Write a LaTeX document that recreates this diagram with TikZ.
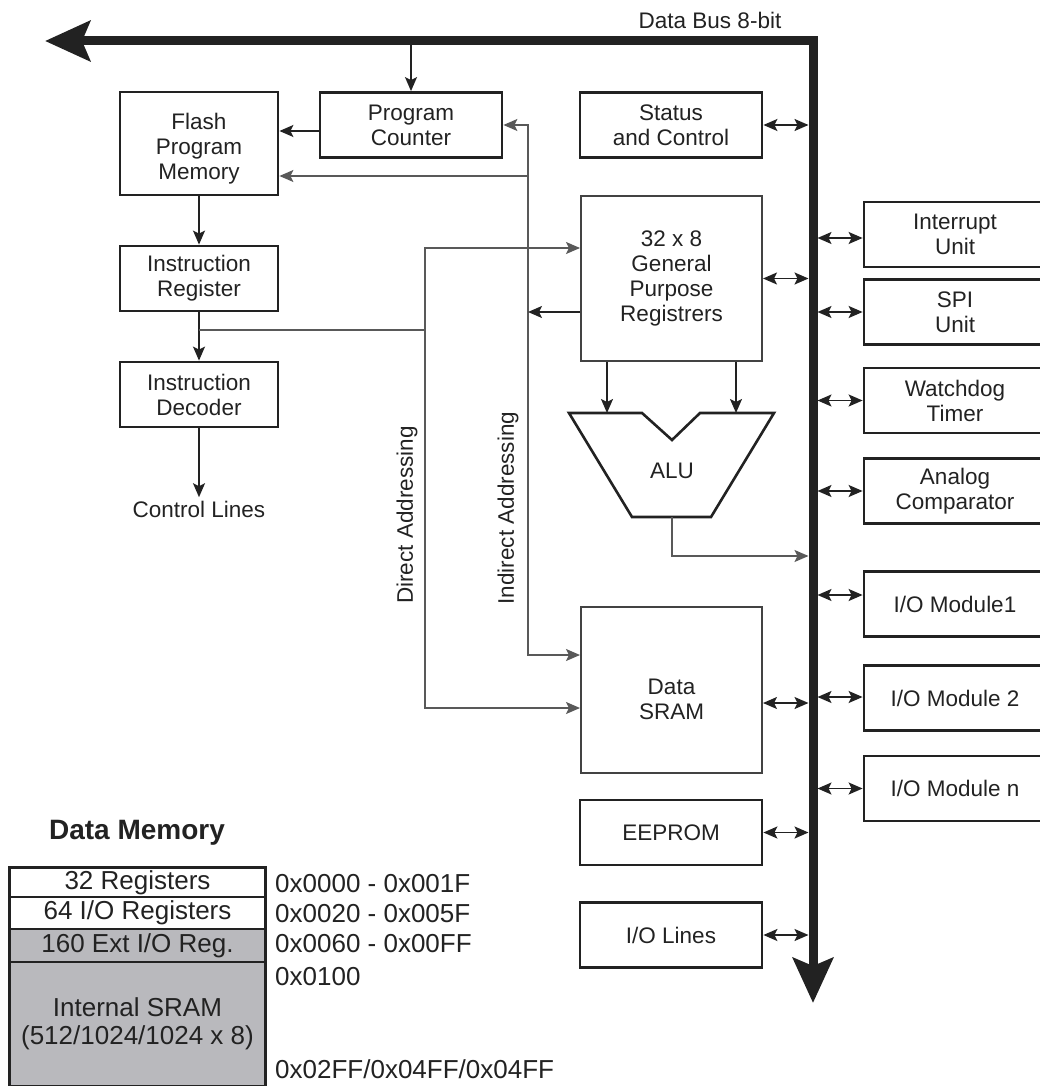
\documentclass[tikz,border=0pt]{standalone}
\usepackage{fontspec}
\setmainfont{Liberation Sans}
\usetikzlibrary{arrows.meta}
\definecolor{ink}{HTML}{222222}
\definecolor{memgray}{HTML}{B9B9BD}

\begin{document}
\begin{tikzpicture}[x=1pt,y=-1pt,
  >={Stealth[length=14pt,width=12pt,inset=3pt]},
  every node/.style={font=\fontsize{22.5}{25}\selectfont,text=ink},
  box/.style={draw=ink,line width=2.8pt,align=center,inner sep=0pt},
  leftbox/.style={box,minimum width=158pt,minimum height=65pt},
  midbox/.style={box,minimum width=182pt,minimum height=65pt},
  sidebox/.style={box,minimum width=182pt,minimum height=65pt},
  regbox/.style={box,draw=ink!85,line width=2pt,minimum width=181pt,minimum height=165pt},
  conn/.style={draw=ink,line width=1.8pt,->},
  dual/.style={draw=ink,line width=1.8pt,<->},
  addr/.style={draw=ink!75,line width=1.4pt},
  bus/.style={draw=ink,line width=9pt,
    {Stealth[length=45pt,width=40pt,inset=8pt]}-{Stealth[length=45pt,width=40pt,inset=8pt]}},
  memrow/.style={draw=ink,line width=1.5pt,minimum width=255pt,inner sep=0pt,align=center,
    font=\fontsize{26}{28}\selectfont},
  addrtext/.style={anchor=base west,inner sep=0pt,font=\fontsize{26}{28}\selectfont}]
\useasboundingbox (0,0) rectangle (1040,1086);

\node[leftbox,minimum height=103pt,label={[align=center,yshift=-5pt]center:Flash\\Program\\Memory}] (flash) at (199,143.5) {};
\node[midbox] (pc) at (411,125) {Program\\Counter};
\node[leftbox] (ir) at (199,278.5) {Instruction\\Register};
\node[leftbox] (idec) at (199,394.5) {Instruction\\Decoder};
\node (ctrl) at (199,509) {Control Lines};

\node[midbox] (status) at (671,125) {Status\\and Control};
\node[regbox] (gpr) at (671.5,278.5) {32 x 8\\General\\Purpose\\Registrers};
\node[regbox,minimum height=166pt,label={[align=center,yshift=-9pt]center:Data\\SRAM}] (sram) at (671.5,690) {};
\node[midbox] (eeprom) at (671,832.5) {EEPROM};
\node[midbox] (iolines) at (671,935) {I/O Lines};

\node[sidebox] (intr) at (955,234.5) {Interrupt\\Unit};
\node[sidebox] (spi) at (955,312) {SPI\\Unit};
\node[sidebox] (wdog) at (955,400.5) {Watchdog\\Timer};
\node[sidebox] (acomp) at (955,491) {Analog\\Comparator};
\node[sidebox] (iom1) at (955,604) {I/O Module1};
\node[sidebox] (iom2) at (955,698) {I/O Module 2};
\node[sidebox] (iomn) at (955,788.5) {I/O Module n};

\coordinate (busl) at (45,41);
\coordinate (busc) at (813,41);
\coordinate (busb) at (813,1003);
\coordinate (bl) at (808.5,41);
\coordinate (br) at (817.5,41);
\node (buslabel) at (710,20) {Data Bus 8-bit};

\draw[conn] (pc.north |- busc) -- (pc.north);
\draw[conn] ([yshift=-6pt]pc.west) -- ([yshift=-6pt]pc.west -| flash.east);
\draw[conn] (flash.south) -- (ir.north);
\draw[conn] (ir.south) -- (idec.north);
\draw[conn] (idec.south) -- (ctrl.north);

\coordinate (dcol) at (425,330);
\coordinate (icol) at (528,0);
\coordinate (flashin) at ([yshift=-32.5pt]flash.east);
\draw[addr] (ir.south |- dcol) -- (dcol);
\draw[addr,->] (dcol) |- ([yshift=30.5pt]gpr.west);
\draw[addr,->] (dcol) |- ([yshift=-18pt]sram.west);
\draw[addr,<->] ([yshift=35pt]sram.west) -| (icol |- pc.east) -- (pc.east);
\draw[addr,->] (icol |- flashin) -- (flashin);
\draw[conn] ([yshift=-33.5pt]gpr.west) -- ([yshift=-33.5pt]gpr.west -| icol);
\node[rotate=90] (dlabel) at (407,515) {Direct Addressing};
\node[rotate=90] (ilabel) at (508,508) {Indirect Addressing};

\coordinate (alutop) at (672,413);
\coordinate (alubot) at (672,517);
\coordinate (aluout) at (672,556);
\draw[conn] ([xshift=-64.5pt]gpr.south) -- ([xshift=-64.5pt]gpr.south |- alutop);
\draw[conn] ([xshift=64.5pt]gpr.south) -- ([xshift=64.5pt]gpr.south |- alutop);
\draw[draw=ink,line width=2.6pt] (569,413) -- (642,413) -- (672,440) -- (700,413) --
      (774,413) -- (711,517) -- (632,517) -- cycle;
\node (alu) at (672,471) {ALU};
\draw[addr,->] (alubot) -- (aluout) -- (aluout -| bl);

\foreach \n/\s in {status/0,gpr/0,sram/-13,eeprom/0,iolines/0}
  \draw[dual] ([yshift=\s pt]\n.east) -- ([yshift=\s pt]\n.east -| bl);
\foreach \n/\s in {intr/-3.5,spi/0,wdog/0,acomp/0,iom1/9,iom2/1,iomn/0}
  \draw[dual] ([yshift=\s pt]\n.west) -- ([yshift=\s pt]\n.west -| br);

\draw[bus] (busb) -- (busc) -- (busl);

\node[font=\bfseries\fontsize{28}{30}\selectfont] (dmem) at (137,833) {Data Memory};
\node[memrow,minimum height=29pt] (regs) at (137.5,882.5) {32 Registers};
\node[memrow,minimum height=32pt] (ioregs) at (137.5,913) {64 I/O Registers};
\node[memrow,fill=memgray,minimum height=33pt] (extio) at (137.5,945.5) {160 Ext I/O Reg.};
\node[memrow,fill=memgray,minimum height=124pt] (isram) at (137.5,1024) {Internal SRAM\\(512/1024/1024 x 8)};
\draw[draw=ink,line width=3pt] (regs.north west) rectangle (isram.south east);
\node[addrtext] (a0) at (275,892) {0x0000 - 0x001F};
\node[addrtext] (a1) at (275,922) {0x0020 - 0x005F};
\node[addrtext] (a2) at (275,952) {0x0060 - 0x00FF};
\node[addrtext] (a3) at (275,985) {0x0100};
\node[addrtext] (a4) at (275,1078) {0x02FF/0x04FF/0x04FF};
\end{tikzpicture}
\end{document}
